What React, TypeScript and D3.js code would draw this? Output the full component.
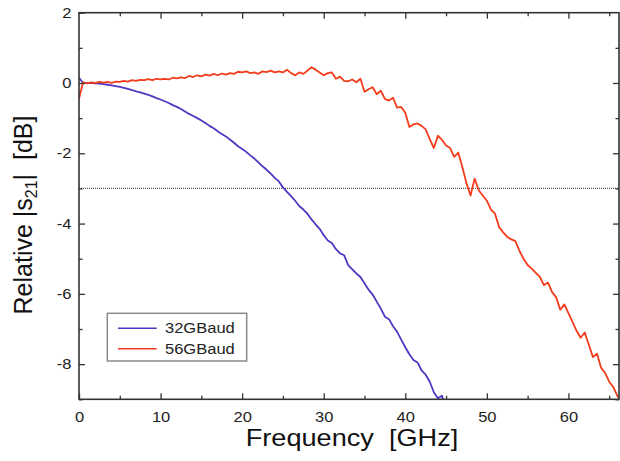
import * as d3 from 'd3';
import { useEffect, useRef } from 'react';

// measured response, sampled every 0.5 GHz starting at 0 GHz
const freqStep = 0.5;

const baud32 = [
  0.15, 0.0, 0.0, 0.0, -0.01, -0.02, -0.03, -0.05, -0.07, -0.09,
  -0.11, -0.14, -0.17, -0.2, -0.24, -0.27, -0.3, -0.34, -0.38, -0.43,
  -0.47, -0.52, -0.57, -0.63, -0.68, -0.74, -0.81, -0.88, -0.94, -1.0,
  -1.07, -1.14, -1.22, -1.29, -1.37, -1.45, -1.52, -1.61, -1.7, -1.8,
  -1.88, -1.96, -2.06, -2.15, -2.26, -2.37, -2.47, -2.58, -2.7, -2.8,
  -2.97, -3.1, -3.22, -3.35, -3.5, -3.6, -3.72, -3.88, -4.02, -4.15,
  -4.33, -4.48, -4.55, -4.73, -4.85, -4.9, -5.18, -5.3, -5.42, -5.52,
  -5.7, -5.88, -6.02, -6.22, -6.42, -6.65, -6.72, -6.92, -7.08, -7.3,
  -7.52, -7.72, -7.88, -7.95, -8.18, -8.3, -8.5, -8.8, -8.97, -8.9,
  -9.3,
];

const baud56 = [
  -0.45, 0.02, -0.01, 0.02, 0.0, 0.03, 0.01, 0.03, 0.0, 0.04,
  0.03, 0.06, 0.04, 0.08, 0.06, 0.09, 0.08, 0.11, 0.08, 0.12,
  0.1, 0.12, 0.1, 0.15, 0.13, 0.16, 0.14, 0.2, 0.17, 0.22,
  0.19, 0.24, 0.21, 0.26, 0.22, 0.27, 0.24, 0.28, 0.26, 0.32,
  0.3, 0.33, 0.28, 0.3, 0.26, 0.33, 0.31, 0.35, 0.3, 0.33,
  0.3, 0.38, 0.28, 0.22, 0.3, 0.26, 0.35, 0.45, 0.38, 0.3,
  0.22, 0.28, 0.3, 0.12, 0.18, 0.06, 0.05, 0.1, 0.02, 0.12,
  -0.25, -0.18, -0.12, -0.32, -0.22, -0.45, -0.5, -0.42, -0.7, -0.68,
  -0.85, -1.25, -1.18, -1.15, -1.22, -1.32, -1.6, -1.85, -1.5, -1.62,
  -1.78, -1.85, -2.1, -1.98, -2.4, -2.85, -3.2, -2.72, -3.05, -3.2,
  -3.35, -3.6, -3.72, -4.1, -4.25, -4.38, -4.45, -4.5, -4.78, -5.0,
  -5.18, -5.28, -5.4, -5.52, -5.75, -5.68, -5.95, -6.1, -6.45, -6.3,
  -6.55, -6.8, -7.05, -7.25, -7.1, -7.45, -7.8, -7.7, -8.1, -8.25,
  -8.5, -8.65, -8.9, -9.1,
];

const seriesNames = ['32GBaud', '56GBaud'];
const seriesColors = ['#5236c2', '#f23c1c'];
const xTicks = [0, 10, 20, 30, 40, 50, 60];
const yTicks = [2, 0, -2, -4, -6, -8];
const cutoffLevel = -3;

const App = () => {
  const svgRef = useRef<SVGSVGElement>(null);

  useEffect(() => {
    const width = 620;
    const height = 461;
    const left = 79;
    const right = 619;
    const top = 12.7;
    const bottom = 399.3;
    const axisColor = '#333';
    const font = '"Liberation Sans", Arial, sans-serif';
    const stretch = 1.18; // the original text is a bit wide

    const x = d3.scaleLinear([0, 66.2], [left, right]);
    const y = d3.scaleLinear([-9, 2], [bottom, top]);

    const svg = d3.select(svgRef.current);
    svg.selectAll('*').remove();
    svg.attr('width', width).attr('height', height).attr('viewBox', [0, 0, width, height]);

    svg.append('rect').attr('width', width).attr('height', height).attr('fill', '#fff');

    svg.append('clipPath').attr('id', 'plot-clip')
      .append('rect')
      .attr('x', left).attr('y', top)
      .attr('width', right - left).attr('height', bottom - top);

    // -3 dB reference line
    svg.append('line')
      .attr('x1', left).attr('x2', right)
      .attr('y1', y(cutoffLevel)).attr('y2', y(cutoffLevel))
      .attr('stroke', '#555')
      .attr('stroke-width', 1.2)
      .attr('stroke-dasharray', '1,1');

    // curves
    const line = d3.line<number>()
      .x((_, i) => x(i * freqStep))
      .y((d) => y(d));

    [baud32, baud56].forEach((vals, k) => {
      svg.append('path')
        .attr('clip-path', 'url(#plot-clip)')
        .attr('fill', 'none')
        .attr('stroke', seriesColors[k])
        .attr('stroke-width', 1.8)
        .attr('stroke-linejoin', 'round')
        .attr('d', line(vals));
    });

    // frame with inward ticks on all four sides
    const xMinor = d3.range(5, 66, 10);
    const yMinor = d3.range(-9, 2, 2);

    const addAxis = (axis, transform, isMajor) => {
      svg.append('g')
        .attr('transform', transform)
        .call(axis)
        .call((g) => g.select('.domain').remove())
        .call((g) => g.selectAll('.tick line').attr('stroke', axisColor).attr('stroke-width', 1.3))
        .call((g) => g.selectAll('.tick text')
          .attr('font-family', font)
          .attr('font-size', 14)
          .attr('fill', '#222'))
        .call((g) => { if (!isMajor) g.selectAll('.tick text').remove(); });
    };

    // bottom
    addAxis(d3.axisBottom(x).tickValues(xTicks).tickSize(-6).tickPadding(13).tickFormat(d3.format('d')),
      `translate(0,${bottom})`, true);
    addAxis(d3.axisBottom(x).tickValues(xMinor).tickSize(-3.5).tickFormat(() => ''),
      `translate(0,${bottom})`, false);
    // top
    addAxis(d3.axisTop(x).tickValues(xTicks.slice(1)).tickSize(-6).tickFormat(() => ''),
      `translate(0,${top})`, false);
    addAxis(d3.axisTop(x).tickValues(xMinor).tickSize(-3.5).tickFormat(() => ''),
      `translate(0,${top})`, false);
    // left
    addAxis(d3.axisLeft(y).tickValues(yTicks).tickSize(-6).tickPadding(7.5 / stretch).tickFormat(d3.format('d')),
      `translate(${left},0)`, true);
    addAxis(d3.axisLeft(y).tickValues(yMinor).tickSize(-3.5).tickFormat(() => ''),
      `translate(${left},0)`, false);
    // right
    addAxis(d3.axisRight(y).tickValues(yTicks.slice(1)).tickSize(-6).tickFormat(() => ''),
      `translate(${right},0)`, false);
    addAxis(d3.axisRight(y).tickValues(yMinor).tickSize(-3.5).tickFormat(() => ''),
      `translate(${right},0)`, false);

    // hyphen minus like the original, widened glyphs
    svg.selectAll('.tick text')
      .text(function () {
        return (d3.select(this).text() || '').replace('\u2212', '-');
      })
      .attr('transform', `scale(${stretch},1)`);

    svg.append('rect')
      .attr('x', left).attr('y', top)
      .attr('width', right - left).attr('height', bottom - top)
      .attr('fill', 'none')
      .attr('stroke', axisColor)
      .attr('stroke-width', 1.6);

    // axis titles
    svg.append('text')
      .attr('transform', `translate(${(left + right) / 2 + 3},446) scale(${stretch},1)`)
      .attr('text-anchor', 'middle')
      .attr('font-family', font)
      .attr('font-size', 23)
      .attr('fill', '#111')
      .attr('xml:space', 'preserve')
      .text('Frequency  [GHz]');

    const yTitle = svg.append('text')
      .attr('transform', 'translate(31.5,215) rotate(-90)')
      .attr('text-anchor', 'middle')
      .attr('font-family', font)
      .attr('font-size', 25)
      .attr('fill', '#111')
      .attr('xml:space', 'preserve');
    yTitle.append('tspan').text('Relative |s');
    yTitle.append('tspan').attr('font-size', 16).attr('dy', 5).text('21');
    yTitle.append('tspan').attr('dy', -5).text('|  [dB]');

    // legend
    const lg = svg.append('g');
    lg.append('rect')
      .attr('x', 107.3).attr('y', 313.3)
      .attr('width', 139.4).attr('height', 47.7)
      .attr('fill', '#fff')
      .attr('stroke', '#8a8a8a')
      .attr('stroke-width', 1.5);
    seriesNames.forEach((name, k) => {
      const ly = 328.3 + k * 20.4;
      lg.append('line')
        .attr('x1', 118).attr('x2', 156.7)
        .attr('y1', ly).attr('y2', ly)
        .attr('stroke', seriesColors[k])
        .attr('stroke-width', 1.6);
      lg.append('text')
        .attr('transform', `translate(165,${ly + 5}) scale(${stretch},1)`)
        .attr('font-family', font)
        .attr('font-size', 14)
        .attr('fill', '#222')
        .text(name);
    });
  }, []);

  return (
    <div style={{ position: 'absolute', left: 0, top: 0 }}>
      <svg ref={svgRef} />
    </div>
  );
};

export default App;
